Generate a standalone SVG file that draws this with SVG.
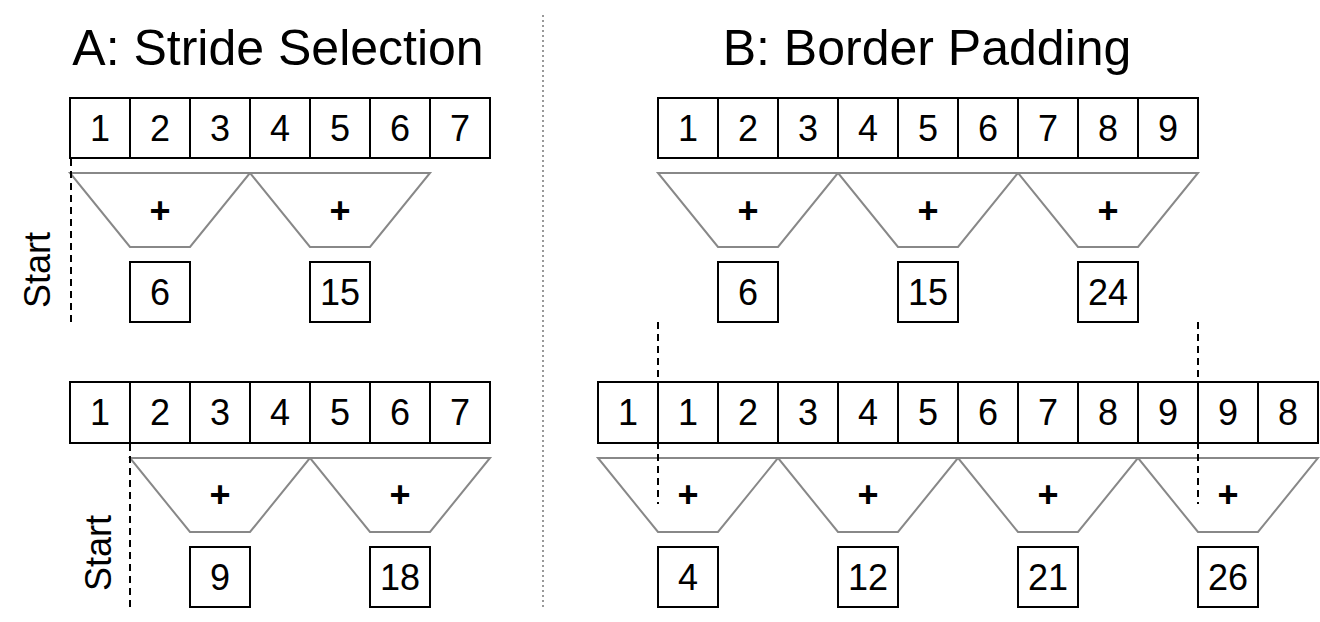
<svg xmlns="http://www.w3.org/2000/svg" width="1320" height="622" viewBox="0 0 1320 622">
<style>
.cell{fill:#fff;stroke:#000;stroke-width:2}
.trap{fill:none;stroke:#888;stroke-width:2;stroke-linejoin:miter}
.t{font-family:"Liberation Sans",Arial,sans-serif;font-size:36px;text-anchor:middle;fill:#000}
.plus{font-family:"Liberation Sans",Arial,sans-serif;font-size:36px;font-weight:bold;text-anchor:middle;fill:#000}
.title{font-family:"Liberation Sans",Arial,sans-serif;font-size:50px;text-anchor:middle;fill:#000}
.dash{stroke:#000;stroke-width:2;stroke-dasharray:7 5;fill:none}
.sep{stroke:#999;stroke-width:2;stroke-dasharray:2 3;fill:none}
</style>
<rect width="1320" height="622" fill="#fff"/>
<text class="title" x="278" y="65">A: Stride Selection</text>
<text class="title" x="927" y="65">B: Border Padding</text>
<line class="sep" x1="543" y1="15" x2="543" y2="610"/>

<!-- Panel A top row -->
<g id="a-top-row">
<rect class="cell" x="70" y="98" width="60" height="60"/><text class="t" x="100" y="141">1</text>
<rect class="cell" x="130" y="98" width="60" height="60"/><text class="t" x="160" y="141">2</text>
<rect class="cell" x="190" y="98" width="60" height="60"/><text class="t" x="220" y="141">3</text>
<rect class="cell" x="250" y="98" width="60" height="60"/><text class="t" x="280" y="141">4</text>
<rect class="cell" x="310" y="98" width="60" height="60"/><text class="t" x="340" y="141">5</text>
<rect class="cell" x="370" y="98" width="60" height="60"/><text class="t" x="400" y="141">6</text>
<rect class="cell" x="430" y="98" width="60" height="60"/><text class="t" x="460" y="141">7</text>
</g>
<g id="a-top-sum1"><polygon class="trap" points="70,173 250,173 190,247 130,247"/><text class="plus" x="160" y="223">+</text></g>
<g id="a-top-sum2"><polygon class="trap" points="250,173 430,173 370,247 310,247"/><text class="plus" x="340" y="223">+</text></g>
<g id="a-top-res1"><rect class="cell" x="130" y="262" width="60" height="60"/><text class="t" x="160" y="305">6</text></g>
<g id="a-top-res2"><rect class="cell" x="310" y="262" width="60" height="60"/><text class="t" x="340" y="305">15</text></g>

<!-- Panel A bottom row -->
<g id="a-bot-row">
<rect class="cell" x="70" y="382" width="60" height="61"/><text class="t" x="100" y="425">1</text>
<rect class="cell" x="130" y="382" width="60" height="61"/><text class="t" x="160" y="425">2</text>
<rect class="cell" x="190" y="382" width="60" height="61"/><text class="t" x="220" y="425">3</text>
<rect class="cell" x="250" y="382" width="60" height="61"/><text class="t" x="280" y="425">4</text>
<rect class="cell" x="310" y="382" width="60" height="61"/><text class="t" x="340" y="425">5</text>
<rect class="cell" x="370" y="382" width="60" height="61"/><text class="t" x="400" y="425">6</text>
<rect class="cell" x="430" y="382" width="60" height="61"/><text class="t" x="460" y="425">7</text>
</g>
<g id="a-bot-sum1"><polygon class="trap" points="130,458 310,458 250,532 190,532"/><text class="plus" x="220" y="507">+</text></g>
<g id="a-bot-sum2"><polygon class="trap" points="310,458 490,458 430,532 370,532"/><text class="plus" x="400" y="507">+</text></g>
<g id="a-bot-res1"><rect class="cell" x="190" y="547" width="60" height="60"/><text class="t" x="220" y="590">9</text></g>
<g id="a-bot-res2"><rect class="cell" x="370" y="547" width="60" height="60"/><text class="t" x="400" y="590">18</text></g>

<!-- Panel B top row -->
<g id="b-top-row">
<rect class="cell" x="658" y="98" width="60" height="60"/><text class="t" x="688" y="141">1</text>
<rect class="cell" x="718" y="98" width="60" height="60"/><text class="t" x="748" y="141">2</text>
<rect class="cell" x="778" y="98" width="60" height="60"/><text class="t" x="808" y="141">3</text>
<rect class="cell" x="838" y="98" width="60" height="60"/><text class="t" x="868" y="141">4</text>
<rect class="cell" x="898" y="98" width="60" height="60"/><text class="t" x="928" y="141">5</text>
<rect class="cell" x="958" y="98" width="60" height="60"/><text class="t" x="988" y="141">6</text>
<rect class="cell" x="1018" y="98" width="60" height="60"/><text class="t" x="1048" y="141">7</text>
<rect class="cell" x="1078" y="98" width="60" height="60"/><text class="t" x="1108" y="141">8</text>
<rect class="cell" x="1138" y="98" width="60" height="60"/><text class="t" x="1168" y="141">9</text>
</g>
<g id="b-top-sum1"><polygon class="trap" points="658,173 838,173 778,247 718,247"/><text class="plus" x="748" y="223">+</text></g>
<g id="b-top-sum2"><polygon class="trap" points="838,173 1018,173 958,247 898,247"/><text class="plus" x="928" y="223">+</text></g>
<g id="b-top-sum3"><polygon class="trap" points="1018,173 1198,173 1138,247 1078,247"/><text class="plus" x="1108" y="223">+</text></g>
<g id="b-top-res1"><rect class="cell" x="718" y="262" width="60" height="60"/><text class="t" x="748" y="305">6</text></g>
<g id="b-top-res2"><rect class="cell" x="898" y="262" width="60" height="60"/><text class="t" x="928" y="305">15</text></g>
<g id="b-top-res3"><rect class="cell" x="1078" y="262" width="60" height="60"/><text class="t" x="1108" y="305">24</text></g>

<!-- Panel B bottom row -->
<g id="b-bot-row">
<rect class="cell" x="598" y="382" width="60" height="61"/><text class="t" x="628" y="425">1</text>
<rect class="cell" x="658" y="382" width="60" height="61"/><text class="t" x="688" y="425">1</text>
<rect class="cell" x="718" y="382" width="60" height="61"/><text class="t" x="748" y="425">2</text>
<rect class="cell" x="778" y="382" width="60" height="61"/><text class="t" x="808" y="425">3</text>
<rect class="cell" x="838" y="382" width="60" height="61"/><text class="t" x="868" y="425">4</text>
<rect class="cell" x="898" y="382" width="60" height="61"/><text class="t" x="928" y="425">5</text>
<rect class="cell" x="958" y="382" width="60" height="61"/><text class="t" x="988" y="425">6</text>
<rect class="cell" x="1018" y="382" width="60" height="61"/><text class="t" x="1048" y="425">7</text>
<rect class="cell" x="1078" y="382" width="60" height="61"/><text class="t" x="1108" y="425">8</text>
<rect class="cell" x="1138" y="382" width="60" height="61"/><text class="t" x="1168" y="425">9</text>
<rect class="cell" x="1198" y="382" width="60" height="61"/><text class="t" x="1228" y="425">9</text>
<rect class="cell" x="1258" y="382" width="60" height="61"/><text class="t" x="1288" y="425">8</text>
</g>
<g id="b-bot-sum1"><polygon class="trap" points="598,458 778,458 718,532 658,532"/><text class="plus" x="688" y="507">+</text></g>
<g id="b-bot-sum2"><polygon class="trap" points="778,458 958,458 898,532 838,532"/><text class="plus" x="868" y="507">+</text></g>
<g id="b-bot-sum3"><polygon class="trap" points="958,458 1138,458 1078,532 1018,532"/><text class="plus" x="1048" y="507">+</text></g>
<g id="b-bot-sum4"><polygon class="trap" points="1138,458 1318,458 1258,532 1198,532"/><text class="plus" x="1228" y="507">+</text></g>
<g id="b-bot-res1"><rect class="cell" x="658" y="547" width="60" height="60"/><text class="t" x="688" y="590">4</text></g>
<g id="b-bot-res2"><rect class="cell" x="838" y="547" width="60" height="60"/><text class="t" x="868" y="590">12</text></g>
<g id="b-bot-res3"><rect class="cell" x="1018" y="547" width="60" height="60"/><text class="t" x="1048" y="590">21</text></g>
<g id="b-bot-res4"><rect class="cell" x="1198" y="547" width="60" height="60"/><text class="t" x="1228" y="590">26</text></g>

<!-- start markers -->
<g id="connectors">
<line class="dash" x1="71" y1="159" x2="71" y2="324"/>
<line class="dash" x1="130" y1="444" x2="130" y2="610"/>
<line class="dash" x1="658" y1="322" x2="658" y2="504"/>
<line class="dash" x1="1198" y1="322" x2="1198" y2="504"/>
</g>
<g id="start-labels">
<text class="t" x="50" y="270" transform="rotate(-90 50 270)">Start</text>
<text class="t" x="111" y="553" transform="rotate(-90 111 553)">Start</text>
</g>
</svg>
